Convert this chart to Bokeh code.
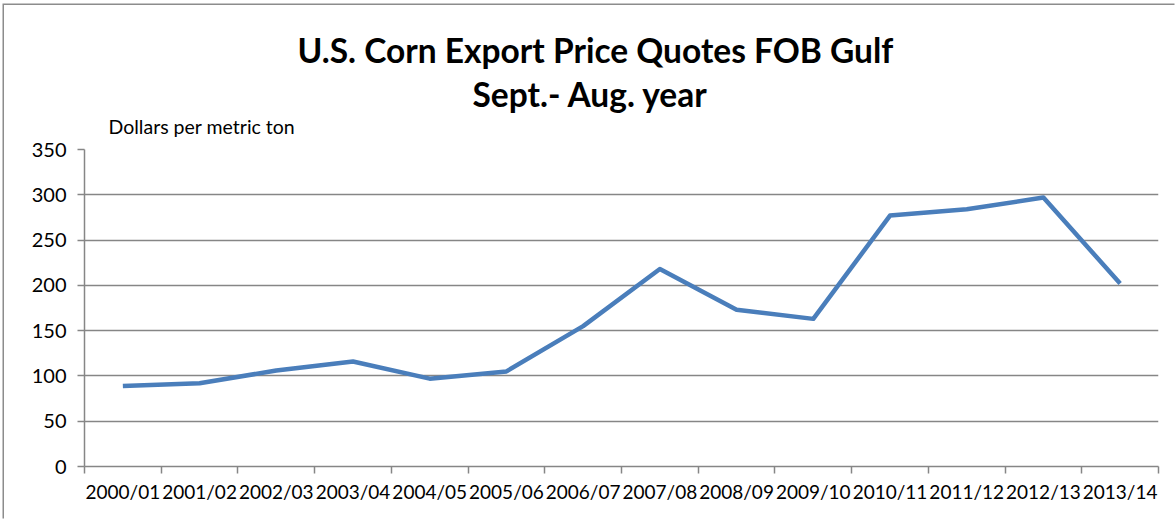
from bokeh.plotting import figure
from bokeh.models import FixedTicker, Title, ColumnDataSource
from bokeh.embed import file_html
from bokeh.resources import INLINE

seasons = ["2000/01", "2001/02", "2002/03", "2003/04", "2004/05", "2005/06", "2006/07",
           "2007/08", "2008/09", "2009/10", "2010/11", "2011/12", "2012/13", "2013/14"]
prices = [89, 92, 106, 116, 97, 105, 155, 218, 173, 163, 277, 284, 297, 202]
y_ticks = [0, 50, 100, 150, 200, 250, 300, 350]
title_lines = ["U.S. Corn Export Price Quotes FOB Gulf", "Sept.- Aug. year"]
unit_label = "Dollars per metric ton"

FONT = "Lato"
GRAY = "#868686"

n = len(seasons)
xs = [i + 0.5 for i in range(n)]
src = ColumnDataSource(dict(x=xs, y=prices))

p = figure(width=1172, height=515, output_backend="svg", toolbar_location=None,
           x_range=(0, n), y_range=(0, 350),
           min_border_left=80, min_border_right=18, min_border_top=144, min_border_bottom=54)
p.styles = {"margin-left": "4px", "margin-top": "5px",
            "box-shadow": "-1.5px -1.5px 0 #8c8c8c"}
p.outline_line_color = None
p.background_fill_color = "white"
p.border_fill_color = "white"

p.line("x", "y", source=src, line_color="#4a7ebb", line_width=4.5, line_join="round")

# x axis: labels at category centres, ticks at boundaries
p.xaxis.ticker = FixedTicker(ticks=xs, minor_ticks=list(range(n + 1)))
p.xaxis.major_label_overrides = {x: s for x, s in zip(xs, seasons)}
p.xaxis.major_tick_line_color = None
p.xaxis.major_tick_in = 0
p.xaxis.major_tick_out = 7
p.xaxis.minor_tick_in = 0
p.xaxis.minor_tick_out = 7
p.xaxis.minor_tick_line_color = GRAY
p.xaxis.minor_tick_line_width = 1.5
p.xaxis.axis_line_color = GRAY
p.xaxis.axis_line_width = 1.5
p.xaxis.major_label_standoff = 6
p.xaxis.major_label_text_font = FONT
p.xaxis.major_label_text_font_size = "19px"
p.xaxis.major_label_text_color = "black"
p.xgrid.grid_line_color = None

p.yaxis.ticker = FixedTicker(ticks=y_ticks, minor_ticks=[])
p.yaxis.axis_line_color = GRAY
p.yaxis.axis_line_width = 1.5
p.yaxis.major_tick_in = 0
p.yaxis.major_tick_out = 7
p.yaxis.major_tick_line_color = GRAY
p.yaxis.major_tick_line_width = 1.5
p.yaxis.minor_tick_line_color = None
p.yaxis.major_label_standoff = 11
p.yaxis.major_label_text_font = FONT
p.yaxis.major_label_text_font_size = "20px"
p.yaxis.major_label_text_color = "black"
p.ygrid.grid_line_color = GRAY
p.ygrid.grid_line_width = 1.5
p.ygrid.ticker = FixedTicker(ticks=y_ticks)

# stacked from the frame outward: unit label, second title line, first title line
p.title = Title(text=title_lines[0], align="left", offset=213,
                text_font=FONT, text_font_size="33.5px", text_font_style="bold",
                text_color="black", standoff=29)
p.add_layout(Title(text=unit_label, align="left", offset=24,
                   text_font=FONT, text_font_size="19.5px", text_font_style="normal",
                   text_color="black", standoff=23), "above")
p.add_layout(Title(text=title_lines[1], align="left", offset=388, text_font=FONT,
                   text_font_size="33.5px", text_font_style="bold", text_color="black",
                   standoff=-25), "above")

open("out.html", "w").write(file_html(p, INLINE))
